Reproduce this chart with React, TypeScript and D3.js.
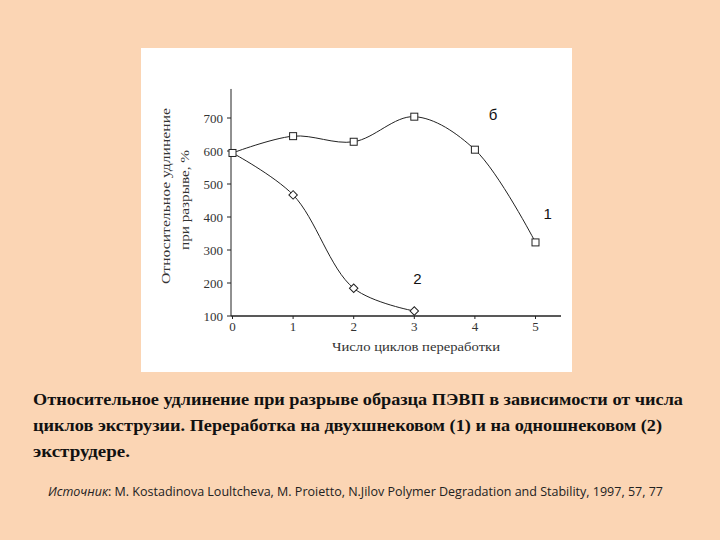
import React, { useEffect, useRef } from "react";
import * as d3 from "d3";

const cycles = [0, 1, 2, 3, 4, 5];
const series1 = [594, 645, 628, 704, 604, 323];
const cycles2 = [0, 1, 2, 3];
const series2 = [594, 467, 184, 115];
const yTicks = [100, 200, 300, 400, 500, 600, 700];
const xTicks = [0, 1, 2, 3, 4, 5];
const yTitle = ["Относительное удлинение", "при разрыве, %"];
const xTitle = "Число циклов переработки";
const seriesLabels = [
  { text: "б", x: 4.3, y: 710 },
  { text: "1", x: 5.2, y: 410 },
  { text: "2", x: 3.05, y: 212 },
];
const caption = [
  "Относительное удлинение при разрыве  образца ПЭВП в зависимости от числа",
  "циклов экструзии. Переработка на двухшнековом (1) и на одношнековом (2)",
  "экструдере.",
];
const sourceLabel = "Источник";
const sourceText = "M. Kostadinova Loultcheva, M. Proietto, N.Jilov Polymer Degradation and Stability, 1997, 57, 77";

export default function App() {
  const ref = useRef<SVGSVGElement>(null);

  useEffect(() => {
    const svg = d3.select(ref.current);
    svg.selectAll("*").remove();

    svg.append("rect").attr("width", 720).attr("height", 540).attr("fill", "#FBD5B4");
    svg.append("rect").attr("x", 141).attr("y", 48).attr("width", 431).attr("height", 324).attr("fill", "#ffffff");

    const x = d3.scaleLinear().domain([0, 5]).range([232.5, 535.5]);
    const y = d3.scaleLinear().domain([100, 700]).range([316, 118]);

    const g = svg.append("g");
    const ink = "#222";
    const serif = "'Liberation Serif', 'DejaVu Serif', serif";

    g.append("line").attr("x1", 231).attr("x2", 561).attr("y1", y(100)).attr("y2", y(100)).attr("stroke", ink).attr("stroke-width", 1.3);
    g.append("line").attr("x1", 231).attr("x2", 231).attr("y1", y(100)).attr("y2", y(788)).attr("stroke", ink).attr("stroke-width", 1);

    yTicks.forEach((t) => {
      g.append("line").attr("x1", 227).attr("x2", 231).attr("y1", y(t)).attr("y2", y(t)).attr("stroke", ink).attr("stroke-width", 1);
      g.append("text").attr("x", 223).attr("y", y(t)).attr("dy", "0.35em").attr("text-anchor", "end")
        .attr("font-family", serif).attr("font-size", 13).attr("fill", "#333").text(String(t));
    });
    xTicks.forEach((t) => {
      g.append("line").attr("x1", x(t)).attr("x2", x(t)).attr("y1", y(100)).attr("y2", y(100) + 3).attr("stroke", ink).attr("stroke-width", 1);
      g.append("text").attr("x", x(t)).attr("y", 331).attr("text-anchor", "middle")
        .attr("font-family", serif).attr("font-size", 13).attr("fill", "#333").text(String(t));
    });

    g.append("text").attr("x", 416).attr("y", 351).attr("text-anchor", "middle")
      .attr("font-family", serif).attr("font-size", 13).attr("fill", "#333")
      .attr("textLength", 168).attr("lengthAdjust", "spacingAndGlyphs").text(xTitle);

    const tx = [165, 184];
    const tl = [176, 100];
    yTitle.forEach((s, i) => {
      g.append("text").attr("transform", `translate(${tx[i]},${i === 0 ? 196 : 200}) rotate(-90)`)
        .attr("text-anchor", "middle").attr("dy", "0.35em")
        .attr("font-family", serif).attr("font-size", 13).attr("fill", "#333")
        .attr("textLength", tl[i]).attr("lengthAdjust", "spacingAndGlyphs").text(s);
    });

    const line = d3.line<[number, number]>().x((d) => x(d[0])).y((d) => y(d[1])).curve(d3.curveCatmullRom.alpha(0.5));
    const d1: [number, number][] = cycles.map((c, i) => [c, series1[i]]);
    const d2: [number, number][] = cycles2.map((c, i) => [c, series2[i]]);

    g.append("path").attr("d", line(d1)).attr("fill", "none").attr("stroke", ink).attr("stroke-width", 1);
    g.append("path").attr("d", line(d2)).attr("fill", "none").attr("stroke", ink).attr("stroke-width", 1);

    d1.forEach((d) => {
      g.append("rect").attr("x", x(d[0]) - 3.5).attr("y", y(d[1]) - 3.5).attr("width", 7).attr("height", 7)
        .attr("fill", "#fff").attr("stroke", ink).attr("stroke-width", 1);
    });
    d2.slice(1).forEach((d) => {
      g.append("path").attr("transform", `translate(${x(d[0])},${y(d[1])}) rotate(45)`)
        .attr("d", d3.symbol().type(d3.symbolSquare).size(36)())
        .attr("fill", "#fff").attr("stroke", ink).attr("stroke-width", 1);
    });

    seriesLabels.forEach((l) => {
      g.append("text").attr("x", x(l.x)).attr("y", y(l.y)).attr("dy", "0.35em").attr("text-anchor", "middle")
        .attr("font-family", "'Liberation Sans', Arial, sans-serif").attr("font-size", 15).attr("fill", "#111").text(l.text);
    });

    const widths = [650, 629, 97];
    caption.forEach((s, i) => {
      svg.append("text").attr("x", 33).attr("y", 405 + i * 26)
        .attr("font-family", serif).attr("font-weight", "bold").attr("font-size", 17).attr("fill", "#111")
        .attr("textLength", widths[i]).attr("lengthAdjust", "spacingAndGlyphs").text(s);
    });

    const src = svg.append("text").attr("x", 48).attr("y", 496)
      .attr("font-family", "'Open Sans', 'Liberation Sans', sans-serif").attr("font-size", 12.5).attr("fill", "#222")
      .attr("textLength", 615).attr("lengthAdjust", "spacingAndGlyphs");
    src.append("tspan").attr("font-style", "italic").text(sourceLabel);
    src.append("tspan").text(":  ");
    src.append("tspan").text(sourceText);
  }, []);

  return <svg ref={ref} width={720} height={540} style={{ position: "absolute", left: 0, top: 0 }} />;
}
